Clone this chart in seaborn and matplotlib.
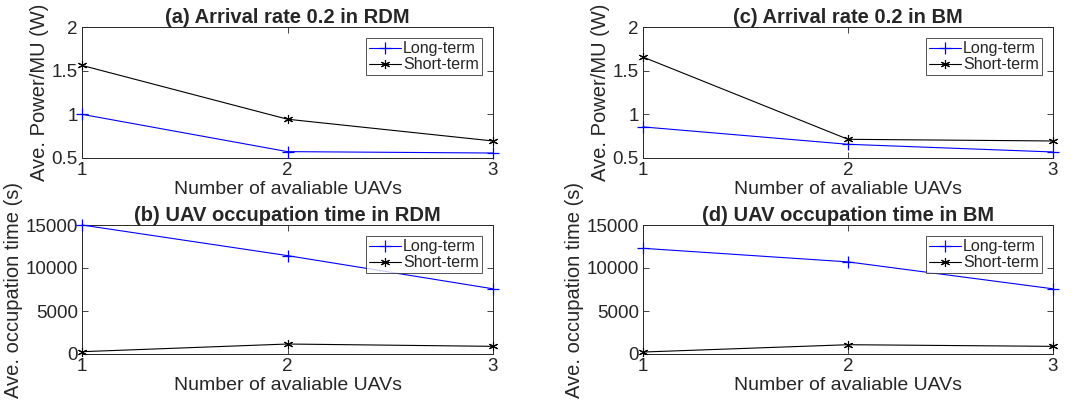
import matplotlib
matplotlib.use("Agg")
import matplotlib.pyplot as plt
import seaborn as sns
import pandas as pd

# Number of available UAVs
uavs = [1, 2, 3]

# Average power per MU (W), arrival rate 0.2
power_rdm_long = [1.00, 0.573, 0.557]
power_rdm_short = [1.56, 0.944, 0.695]
power_bm_long = [0.856, 0.657, 0.569]
power_bm_short = [1.656, 0.714, 0.695]

# Average UAV occupation time (s)
occ_rdm_long = [15000, 11440, 7580]
occ_rdm_short = [270, 1160, 890]
occ_bm_long = [12290, 10710, 7580]
occ_bm_short = [230, 1080, 890]

series_names = ["Long-term", "Short-term"]
xlabel = "Number of avaliable UAVs"

sns.set_style("ticks")
plt.rcParams["font.family"] = ["Liberation Sans", "DejaVu Sans"]
plt.rcParams["axes.edgecolor"] = "#262626"
plt.rcParams["xtick.color"] = "#262626"
plt.rcParams["ytick.color"] = "#262626"
plt.rcParams["axes.labelcolor"] = "#262626"

fig = plt.figure(figsize=(10.78, 4.05), dpi=100)

W, H = 1078, 405
def box(l, t, r, b):
    return [l / W, (H - b) / H, (r - l) / W, (b - t) / H]

# six-spoke asterisk marker
asterisk = (6, 2, 0)

panels = [
    (box(82, 27, 493, 158), "(a) Arrival rate 0.2 in RDM", power_rdm_long, power_rdm_short,
     "Ave. Power/MU (W)", (0.5, 2), [0.5, 1, 1.5, 2], ["0.5", "1", "1.5", "2"]),
    (box(643, 27, 1053, 158), "(c) Arrival rate 0.2 in BM", power_bm_long, power_bm_short,
     "Ave. Power/MU (W)", (0.5, 2), [0.5, 1, 1.5, 2], ["0.5", "1", "1.5", "2"]),
    (box(82, 225, 493, 354), "(b) UAV occupation time in RDM", occ_rdm_long, occ_rdm_short,
     "Ave. occupation time (s)", (0, 15000), [0, 5000, 10000, 15000], ["0", "5000", "10000", "15000"]),
    (box(643, 225, 1053, 354), "(d) UAV occupation time in BM", occ_bm_long, occ_bm_short,
     "Ave. occupation time (s)", (0, 15000), [0, 5000, 10000, 15000], ["0", "5000", "10000", "15000"]),
]

for rect, title, long_vals, short_vals, ylab, ylim, yticks, yticklabels in panels:
    ax = fig.add_axes(rect)
    df = pd.DataFrame({
        "uavs": uavs * 2,
        "value": list(long_vals) + list(short_vals),
        "scheme": [series_names[0]] * 3 + [series_names[1]] * 3,
    })
    sns.lineplot(data=df[df.scheme == series_names[0]], x="uavs", y="value", ax=ax,
                 color="#0000ff", marker="+", markersize=8, markeredgewidth=0.9,
                 markeredgecolor="#0000ff", linewidth=0.8, label=series_names[0],
                 clip_on=False, zorder=3)
    sns.lineplot(data=df[df.scheme == series_names[1]], x="uavs", y="value", ax=ax,
                 color="black", marker=asterisk, markersize=6.5, markeredgewidth=0.8,
                 markeredgecolor="black", linewidth=0.8, label=series_names[1],
                 clip_on=False, zorder=3)
    ax.set_xlim(1, 3)
    ax.set_ylim(*ylim)
    ax.set_xticks(uavs)
    ax.set_xticklabels([str(u) for u in uavs])
    ax.set_yticks(yticks)
    ax.set_yticklabels(yticklabels)
    ax.tick_params(direction="in", top=True, right=True, labelsize=13.5, length=4, width=0.6, pad=3)
    for s in ax.spines.values():
        s.set_visible(True)
        s.set_linewidth(0.7)
    ax.set_title(title, fontsize=14.5, fontweight="bold", pad=3)
    ax.set_xlabel(xlabel, fontsize=14, labelpad=1)
    ax.set_ylabel(ylab, fontsize=14.5, labelpad=2)
    leg = ax.legend(loc="upper right", fontsize=11.5, frameon=True, fancybox=False,
                    handlelength=2.0, handletextpad=0.1, borderpad=0.2,
                    labelspacing=0.05, borderaxespad=0.7)
    leg.get_frame().set_edgecolor("#262626")
    leg.get_frame().set_linewidth(0.7)

fig.savefig("out.png", dpi=100)
